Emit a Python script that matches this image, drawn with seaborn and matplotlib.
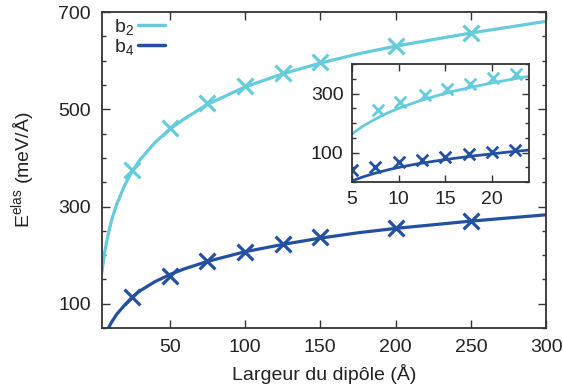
import matplotlib
matplotlib.use('Agg')
import matplotlib.pyplot as plt
import seaborn as sns
from matplotlib.ticker import MultipleLocator, FixedLocator
from matplotlib.lines import Line2D

# data
width_pts = [25, 50, 75, 100, 125, 150, 200, 250]
b2_pts = [375, 461, 513, 548, 575, 597, 630, 657]
b4_pts = [113, 158, 188, 207, 223, 237, 256, 271]

# fitted curves (main panel)
curve_x = [5, 6, 7, 8, 9, 10, 12, 15, 20, 25, 30, 40, 50, 60, 75, 100, 125, 150, 175, 200, 250, 300]
b2_curve = [165, 188, 208, 225, 240, 254, 278, 306, 343, 372, 395, 431, 459, 481, 510, 546, 573, 595, 614, 630, 657, 681]
b4_curve = [4, 16, 27, 41, 48, 54, 65, 79, 97, 113, 126, 145, 160, 172, 187, 207, 222, 235, 246, 255, 270, 283]

# inset (small widths)
in_b2_x = [7.8, 10.2, 12.8, 15.2, 17.7, 20.1, 22.6]
in_b2_pts = [244, 272, 294, 317, 333, 353, 367]
in_b4_x = [5, 7.5, 10, 12.5, 15, 17.5, 20, 22.5]
in_b4_pts = [41, 52, 67, 74, 85, 94, 103, 108]
in_curve_x = [5, 6, 7, 8, 9, 10, 12, 14, 16, 18, 20, 22, 24]
in_b2_curve = [163, 186, 205, 222, 237, 250, 273, 292, 309, 323, 336, 348, 359]
in_b4_curve = [4, 16, 26, 35, 43, 50, 62, 72, 81, 89, 96, 103, 109]

c_b2 = '#66CBDB'
c_b4 = '#2450A2'
spine_c = '#333333'
fs = 14

sns.set_style('ticks')
plt.rcParams['font.family'] = ['Liberation Sans', 'DejaVu Sans']
plt.rcParams['mathtext.default'] = 'regular'

fig = plt.figure(figsize=(5.63, 3.91), dpi=100)
ax = fig.add_axes([0.181, 0.161, 0.789, 0.808])

sns.lineplot(x=curve_x, y=b2_curve, ax=ax, color=c_b2, lw=2.3)
sns.lineplot(x=curve_x, y=b4_curve, ax=ax, color=c_b4, lw=2.3)
sns.scatterplot(x=width_pts, y=b2_pts, ax=ax, color=c_b2, marker='x', s=130, linewidth=2.3)
sns.scatterplot(x=width_pts, y=b4_pts, ax=ax, color=c_b4, marker='x', s=130, linewidth=2.3)

ax.set_xlim(5, 300)
ax.set_ylim(50, 700)
ax.xaxis.set_major_locator(FixedLocator([50, 100, 150, 200, 250, 300]))
ax.yaxis.set_major_locator(FixedLocator([100, 300, 500, 700]))
ax.yaxis.set_minor_locator(MultipleLocator(50))
ax.tick_params(which='both', direction='in', top=True, right=True, colors=spine_c,
               labelcolor='#222222', labelsize=fs, width=1.0)
ax.tick_params(which='major', length=6, pad=8)
ax.tick_params(which='minor', length=3)
for s in ax.spines.values():
    s.set_color(spine_c)
    s.set_linewidth(1.3)
ax.set_xlabel('Largeur du dipôle (Å)', fontsize=fs, color='#222222', labelpad=6)
ax.set_ylabel('E$^{elas}$ (meV/Å)', fontsize=fs, color='#222222')
ax.yaxis.set_label_coords(-0.145, 0.5)

handles = [Line2D([], [], color=c_b2, lw=2.5), Line2D([], [], color=c_b4, lw=2.5)]
ax.legend(handles, ['b$_2$', 'b$_4$'], loc='upper left', frameon=False, markerfirst=False,
          fontsize=fs, handlelength=1.4, handletextpad=0.2, labelspacing=0.0,
          borderaxespad=0.0, bbox_to_anchor=(0.01, 1.01))

# inset
ins = fig.add_axes([0.625, 0.534, 0.315, 0.302])
sns.lineplot(x=in_curve_x, y=in_b2_curve, ax=ins, color=c_b2, lw=2.0)
sns.lineplot(x=in_curve_x, y=in_b4_curve, ax=ins, color=c_b4, lw=2.0)
sns.scatterplot(x=in_b2_x, y=in_b2_pts, ax=ins, color=c_b2, marker='x', s=70, linewidth=2.0)
sns.scatterplot(x=in_b4_x, y=in_b4_pts, ax=ins, color=c_b4, marker='x', s=70, linewidth=2.0)
ins.set_xlim(5, 24)
ins.set_ylim(0, 400)
ins.xaxis.set_major_locator(FixedLocator([5, 10, 15, 20]))
ins.yaxis.set_major_locator(FixedLocator([100, 300]))
ins.yaxis.set_minor_locator(MultipleLocator(50))
ins.tick_params(which='both', direction='in', top=True, right=True, colors=spine_c,
                labelcolor='#222222', labelsize=fs, width=1.0)
ins.tick_params(which='major', length=5, pad=6)
ins.tick_params(which='minor', length=3)
for s in ins.spines.values():
    s.set_color(spine_c)
    s.set_linewidth(1.3)

fig.savefig('out.png', dpi=100)
